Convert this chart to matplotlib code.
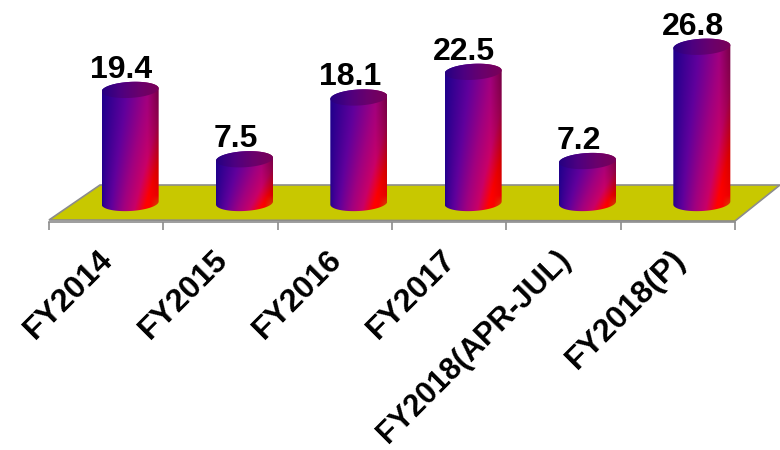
import numpy as np
import matplotlib
matplotlib.use("Agg")
import matplotlib.pyplot as plt
from matplotlib.path import Path
from matplotlib.patches import PathPatch, Polygon
from matplotlib.colors import LinearSegmentedColormap
from matplotlib.transforms import ScaledTranslation

categories = ["FY2014", "FY2015", "FY2016", "FY2017", "FY2018(APR-JUL)", "FY2018(P)"]
values = [19.4, 7.5, 18.1, 22.5, 7.2, 26.8]

plt.rcParams["font.family"] = ["Liberation Sans", "DejaVu Sans"]
plt.rcParams["font.weight"] = "bold"

W, H = 780, 450
LEFT, RIGHT, BOTTOM = 49, 735, 222
PX_X = (RIGHT - LEFT) / len(categories)  # pixels per category
PX_Y = 5.83                              # pixels per value unit
BASE = 203

body_cmap = LinearSegmentedColormap.from_list(
    "body", [(0, "#20008c"), (0.3, "#60009c"), (0.55, "#a00080"),
             (0.75, "#c80068"), (0.93, "#ff0000"), (1, "#ff0000")])
cap_cmap = LinearSegmentedColormap.from_list(
    "cap", ["#260082", "#4e0080", "#6a006c", "#7a0058"])

fig = plt.figure(figsize=(W / 100, H / 100), dpi=100)
ax = fig.add_axes([LEFT / W, 1 - BOTTOM / H, (RIGHT - LEFT) / W, BOTTOM / H])
ax.set_xlim(-0.5, len(categories) - 0.5)
ax.set_ylim(-(BOTTOM - BASE) / PX_Y, BASE / PX_Y)
ax.patch.set_visible(False)

def px(x, y):
    # figure pixel to data coords
    return (x - LEFT) / PX_X - 0.5, (BASE - y) / PX_Y

# floor
floor = Polygon([px(49, 220), px(100, 185), px(780, 185), px(735, 221)],
                closed=True, facecolor="#c8c800", edgecolor="#8c8c8c", lw=1.2,
                clip_on=False, zorder=1)
ax.add_patch(floor)

def ellipse(cx, cy, rx, ry, tilt, t):
    x = cx + rx * np.cos(t)
    y = cy + ry * np.sin(t) + tilt * np.cos(t)
    return x, y

DX = 24 / PX_X
RX = 28.5 / PX_X
RY = 8 / PX_Y
TILT = 1.5 / PX_Y

for i, v in enumerate(values):
    cx = i + DX
    xa, xb = cx - RX, cx + RX
    ya, yb = -RY - 0.3, v + RY + 0.3

    # body shading, diagonal from blue top left to red bottom right
    ny, nx = 300, 80
    u, w = np.meshgrid(np.linspace(0, 1, nx), np.linspace(1, 0, ny))
    t = np.clip(0.68 * u + 0.5 * (1 - w) ** 1.5 * u ** 0.5, 0, 1)
    rgb = body_cmap(t)[..., :3]
    edge = np.clip((u - 0.8) / 0.2, 0, 1)
    rgb = rgb * (1 - 0.4 * edge * w ** 0.7)[..., None]
    corner = np.clip((u - 0.86) / 0.14, 0, 1) * np.clip(1 - (w * (yb - ya)) / 3.0, 0, 1)
    rgb = rgb * (1 - corner[..., None]) + np.array([0.72, 0.5, 0.0]) * corner[..., None]

    im = ax.imshow(rgb, extent=[xa, xb, ya, yb], aspect="auto", zorder=3,
                   interpolation="bilinear")
    t1 = np.linspace(0, np.pi, 60)
    bx, by = ellipse(cx, 0, RX, -RY, TILT, t1[::-1])
    tx, ty = ellipse(cx, v, RX, RY, TILT, t1)
    verts = np.r_[np.c_[tx, ty], np.c_[bx, by], [[tx[0], ty[0]]]]
    clip = PathPatch(Path(verts), transform=ax.transData, fc="none", ec="none")
    ax.add_patch(clip)
    im.set_clip_path(clip)

    # cap
    u2 = np.linspace(0, 1, 80)[None, :]
    cap = ax.imshow(cap_cmap(u2)[..., :3], extent=[xa, xb, v - RY - 1, v + RY + 1],
                    aspect="auto", zorder=4, interpolation="bilinear")
    t2 = np.linspace(0, 2 * np.pi, 100)
    ex, ey = ellipse(cx, v, RX, RY, TILT, t2)
    clip2 = PathPatch(Path(np.c_[ex, ey]), transform=ax.transData, fc="none", ec="none")
    ax.add_patch(clip2)
    cap.set_clip_path(clip2)

    ax.text(cx - 9 / PX_X, v + 12 / PX_Y, f"{v}", ha="center", va="baseline",
            fontsize=23, fontweight="bold", color="black", zorder=5, clip_on=False)

ax.set_xlim(-0.5, len(categories) - 0.5)
ax.set_ylim(-(BOTTOM - BASE) / PX_Y, BASE / PX_Y)

for s in ["top", "left", "right"]:
    ax.spines[s].set_visible(False)
ax.spines["bottom"].set_color("#8c8c8c")
ax.spines["bottom"].set_linewidth(1.2)
ax.set_yticks([])
ax.set_xticks(np.arange(len(categories) + 1) - 0.5)
ax.set_xticklabels([])
ax.tick_params(axis="x", which="major", length=6, width=1.2, color="#8c8c8c")
ax.set_xticks(np.arange(len(categories)), minor=True)
ax.set_xticklabels(categories, minor=True, rotation=45, ha="right",
                   rotation_mode="anchor", fontsize=23, fontweight="bold")
ax.tick_params(axis="x", which="minor", length=0, pad=16)
shift = ScaledTranslation(-8 / 100, 0, fig.dpi_scale_trans)
for lab in ax.get_xticklabels(minor=True):
    lab.set_transform(lab.get_transform() + shift)
    # longest label has to stay inside the picture
    if len(lab.get_text()) > 10:
        lab.set_fontsize(22)

fig.savefig("out.png", dpi=100)
